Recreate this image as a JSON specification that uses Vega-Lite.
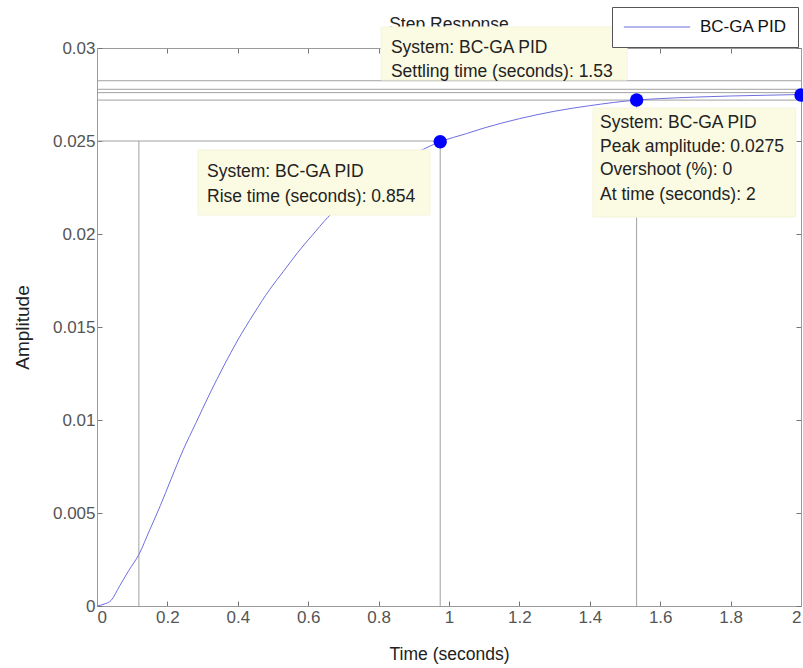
{
  "$schema": "https://vega.github.io/schema/vega-lite/v6.json",
  "autosize": "none",
  "width": 704,
  "height": 558,
  "padding": {"left": 97, "top": 48, "right": 2, "bottom": 62},
  "background": "white",
  "config": {
    "font": "Liberation Sans",
    "view": {"stroke": null},
    "axis": {
      "grid": false,
      "domainColor": "#9a9a9a",
      "tickColor": "#777777",
      "tickSize": -5,
      "labelFontSize": 17,
      "labelColor": "#555555",
      "titleFontSize": 17.5,
      "titleFontWeight": "normal",
      "titleColor": "#222222",
      "labelFont": "Liberation Sans",
      "titleFont": "Liberation Sans"
    }
  },
  "datasets": {
    "curve": [
      {"t": 0, "amp": 0},
      {"t": 0.02, "amp": 0.0001},
      {"t": 0.04, "amp": 0.0003},
      {"t": 0.065, "amp": 0.0011},
      {"t": 0.09, "amp": 0.0019},
      {"t": 0.119, "amp": 0.00277},
      {"t": 0.15, "amp": 0.0041},
      {"t": 0.18, "amp": 0.0054},
      {"t": 0.21, "amp": 0.0068},
      {"t": 0.245, "amp": 0.0084},
      {"t": 0.28, "amp": 0.0098},
      {"t": 0.32, "amp": 0.0114},
      {"t": 0.36, "amp": 0.0129},
      {"t": 0.40, "amp": 0.0143},
      {"t": 0.445, "amp": 0.0157},
      {"t": 0.49, "amp": 0.0170},
      {"t": 0.53, "amp": 0.0180},
      {"t": 0.57, "amp": 0.0190},
      {"t": 0.61, "amp": 0.0199},
      {"t": 0.656, "amp": 0.0209},
      {"t": 0.70, "amp": 0.0217},
      {"t": 0.75, "amp": 0.0225},
      {"t": 0.80, "amp": 0.0232},
      {"t": 0.85, "amp": 0.0238},
      {"t": 0.90, "amp": 0.0243},
      {"t": 0.975, "amp": 0.02496},
      {"t": 1.05, "amp": 0.0254},
      {"t": 1.1, "amp": 0.0257},
      {"t": 1.2, "amp": 0.0262},
      {"t": 1.3, "amp": 0.0266},
      {"t": 1.4, "amp": 0.0269},
      {"t": 1.533, "amp": 0.0272},
      {"t": 1.6, "amp": 0.02728},
      {"t": 1.7, "amp": 0.02736},
      {"t": 1.8, "amp": 0.02742},
      {"t": 1.9, "amp": 0.02746},
      {"t": 2.0, "amp": 0.0275}
    ],
    "hlines": [
      {"amp": 0.02824},
      {"amp": 0.02778},
      {"amp": 0.0276},
      {"amp": 0.0272}
    ],
    "segments": [
      {"t": 0, "t2": 0.975, "amp": 0.025, "amp2": 0.025},
      {"t": 0.119, "t2": 0.119, "amp": 0, "amp2": 0.025},
      {"t": 0.975, "t2": 0.975, "amp": 0, "amp2": 0.025},
      {"t": 1.533, "t2": 1.533, "amp": 0, "amp2": 0.0272}
    ],
    "dots": [
      {"t": 0.975, "amp": 0.02496},
      {"t": 1.533, "amp": 0.0272},
      {"t": 2.0, "amp": 0.02747}
    ],
    "boxes": [
      {"id": "rise", "t": 0.287, "t2": 0.946, "amp": 0.02452, "amp2": 0.02102},
      {"id": "peak", "t": 1.409, "t2": 1.985, "amp": 0.02677, "amp2": 0.02091}
    ],
    "settlebox": [
      {"id": "settle", "t": 0.807, "t2": 1.506, "amp": 0.03113, "amp2": 0.02828}
    ],
    "labels": [
      {"t": 0.3125, "amp": 0.02333, "txt": "System: BC-GA PID"},
      {"t": 0.3125, "amp": 0.02199, "txt": "Rise time (seconds): 0.854"},
      {"t": 1.429, "amp": 0.02597, "txt": "System: BC-GA PID"},
      {"t": 1.429, "amp": 0.02468, "txt": "Peak amplitude: 0.0275"},
      {"t": 1.429, "amp": 0.02344, "txt": "Overshoot (%): 0"},
      {"t": 1.429, "amp": 0.0221, "txt": "At time (seconds): 2"}
    ],
    "settlelabels": [
      {"t": 0.835, "amp": 0.03, "txt": "System: BC-GA PID"},
      {"t": 0.835, "amp": 0.02871, "txt": "Settling time (seconds): 1.53"}
    ],
    "titletext": [
      {"t": 1.0, "amp": 0.03126, "txt": "Step Response"}
    ]
  },
  "resolve": {"axis": {"x": "independent", "y": "independent"}},
  "layer": [
    {
      "data": {"name": "hlines"},
      "mark": {"type": "rule", "color": "#a0a0a0", "strokeWidth": 1},
      "encoding": {
        "y": {"field": "amp", "type": "quantitative", "scale": {"domain": [0, 0.03], "nice": false, "zero": false},
          "axis": {"values": [0, 0.005, 0.01, 0.015, 0.02, 0.025, 0.03], "format": "~g", "title": "Amplitude", "titleFontSize": 19, "titlePadding": 20, "labelPadding": 7}}
      }
    },
    {
      "data": {"name": "segments"},
      "mark": {"type": "rule", "color": "#a0a0a0", "strokeWidth": 1},
      "encoding": {
        "x": {"field": "t", "type": "quantitative", "scale": {"domain": [0, 2], "nice": false, "zero": false},
          "axis": {"values": [0, 0.2, 0.4, 0.6, 0.8, 1, 1.2, 1.4, 1.6, 1.8, 2], "format": "~g", "title": "Time (seconds)", "labelPadding": 8, "titlePadding": 20}},
        "x2": {"field": "t2"},
        "y": {"field": "amp", "type": "quantitative", "axis": null},
        "y2": {"field": "amp2"}
      }
    },
    {
      "data": {"name": "curve"},
      "transform": [{"calculate": "'BC-GA PID'", "as": "series"}],
      "mark": {"type": "line", "strokeWidth": 1, "interpolate": "monotone"},
      "encoding": {
        "x": {"field": "t", "type": "quantitative", "axis": {"orient": "top", "labels": false, "title": null, "values": [0, 0.2, 0.4, 0.6, 0.8, 1, 1.2, 1.4, 1.6, 1.8, 2]}},
        "y": {"field": "amp", "type": "quantitative", "axis": {"orient": "right", "labels": false, "title": null, "values": [0, 0.005, 0.01, 0.015, 0.02, 0.025, 0.03]}},
        "color": {"field": "series", "type": "nominal", "scale": {"domain": ["BC-GA PID"], "range": ["#6e6ee0"]},
          "legend": {"title": null, "orient": "none", "legendX": 515, "legendY": -41, "symbolType": "stroke", "symbolSize": 4400, "symbolStrokeWidth": 1, "clipHeight": 18, "labelFontSize": 17, "labelColor": "#111111", "labelFont": "Liberation Sans", "padding": 11, "labelOffset": 9, "strokeColor": "#555555", "fillColor": "white"}}
      }
    },
    {
      "data": {"name": "dots"},
      "mark": {"type": "circle", "color": "#0000ff", "opacity": 1, "size": 180},
      "encoding": {
        "x": {"field": "t", "type": "quantitative", "axis": null},
        "y": {"field": "amp", "type": "quantitative", "axis": null}
      }
    },
    {
      "data": {"name": "boxes"},
      "mark": {"type": "rect", "fill": "#fbfbe4", "stroke": "#f4f4dc", "strokeWidth": 1},
      "encoding": {
        "x": {"field": "t", "type": "quantitative", "axis": null},
        "x2": {"field": "t2"},
        "y": {"field": "amp", "type": "quantitative", "axis": null},
        "y2": {"field": "amp2"}
      }
    },
    {
      "data": {"name": "labels"},
      "mark": {"type": "text", "align": "left", "baseline": "middle", "fontSize": 17.5, "color": "#222222", "font": "Liberation Sans"},
      "encoding": {
        "x": {"field": "t", "type": "quantitative", "axis": null},
        "y": {"field": "amp", "type": "quantitative", "axis": null},
        "text": {"field": "txt"}
      }
    },
    {
      "data": {"name": "titletext"},
      "mark": {"type": "text", "align": "center", "baseline": "middle", "fontSize": 17.5, "color": "#222222", "font": "Liberation Sans"},
      "encoding": {
        "x": {"field": "t", "type": "quantitative", "axis": null},
        "y": {"field": "amp", "type": "quantitative", "axis": null},
        "text": {"field": "txt"}
      }
    },
    {
      "data": {"name": "settlebox"},
      "mark": {"type": "rect", "fill": "#fbfbe4", "stroke": "#f4f4dc", "strokeWidth": 1},
      "encoding": {
        "x": {"field": "t", "type": "quantitative", "axis": null},
        "x2": {"field": "t2"},
        "y": {"field": "amp", "type": "quantitative", "axis": null},
        "y2": {"field": "amp2"}
      }
    },
    {
      "data": {"name": "settlelabels"},
      "mark": {"type": "text", "align": "left", "baseline": "middle", "fontSize": 17.5, "color": "#222222", "font": "Liberation Sans"},
      "encoding": {
        "x": {"field": "t", "type": "quantitative", "axis": null},
        "y": {"field": "amp", "type": "quantitative", "axis": null},
        "text": {"field": "txt"}
      }
    }
  ]
}
